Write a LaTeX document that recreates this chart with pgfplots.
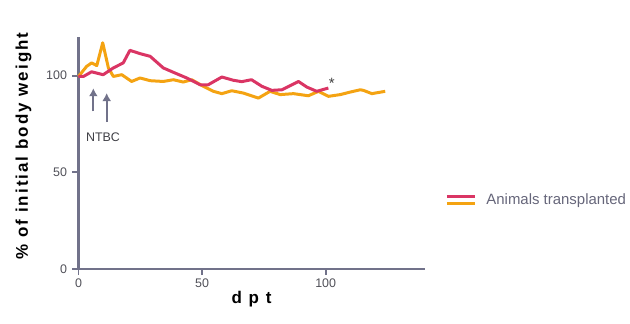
\documentclass[border=0pt]{standalone}
\usepackage{pgfplots}
\pgfplotsset{compat=1.18}
\usetikzlibrary{arrows.meta}
\usepackage{fontspec}
\setmainfont{Liberation Sans}
\newfontfamily\lsfont[LetterSpace=12]{Liberation Sans}
\definecolor{cred}{HTML}{DA3564}
\definecolor{corange}{HTML}{F4A312}
\definecolor{caxis}{HTML}{71728A}
\definecolor{ctick}{HTML}{505058}
\definecolor{cleg}{HTML}{66667A}
\begin{document}
\begin{tikzpicture}
\begin{axis}[
  scale only axis, width=346bp, height=232bp,
  at={(0,0)}, anchor=south west,
  xmin=0, xmax=140, ymin=0, ymax=120,
  axis x line=bottom, axis y line=left,
  axis line style={caxis, line width=2.4bp, -},
  xtick={0,50,100}, ytick={0,50,100},
  tick style={caxis, line width=1.8bp},
  tick align=outside, major tick length=6bp,
  /pgf/number format/assume math mode=true,
  ticklabel style={font=\fontsize{12.5}{14}\selectfont, text=ctick},
  yticklabel style={xshift=-2bp},
  xlabel={\lsfont\bfseries\fontsize{17}{19}\selectfont d p t},
  ylabel={\lsfont\bfseries\fontsize{17}{19}\selectfont \% of initial body weight},
  xlabel style={yshift=3bp},
  ylabel style={yshift=8bp, xshift=7bp},
  legend style={at={(1.06,0.297)}, anchor=west, draw=none, fill=none,
    font=\fontsize{15}{17}\selectfont\color{cleg}, inner sep=0pt},
  legend cell align=left,
  clip=false,
]
\addlegendimage{legend image code/.code={
  \draw[cred, line width=3bp] (0bp,3.5bp) -- (28bp,3.5bp);
  \draw[corange, line width=3bp] (0bp,-3.5bp) -- (28bp,-3.5bp);
}}
\addlegendentry{\hspace{8bp}Animals transplanted}
\addplot[forget plot, corange, line width=3bp, line join=round] coordinates {
(0,99.6) (3.3,104.8) (5.3,106.6) (7.4,105.2) (9.8,117) (12.1,104) (14.1,99.6)
(17.5,100.5) (21.5,97) (24.9,98.8) (29,97.4) (34.3,97) (38.4,97.9) (42.4,96.7)
(45.8,97.9) (50.5,94.5) (54.6,91.9) (58,90.7) (62,92.2) (66.7,91) (72.8,88.4)
(77.5,91.9) (81.6,90.2) (87,90.7) (93,89.6) (97.1,91.9) (101.1,89.3) (105.9,90.2)
(109.9,91.5) (114,92.7) (115.3,92.4) (118.7,90.7) (124.1,91.9)
};
\addplot[forget plot, cred, line width=3bp, line join=round] coordinates {
(0,99.6) (2,99.6) (5.3,102) (10,100.5) (14.1,104) (18.1,106.6) (20.8,113.1)
(24.9,111.4) (29,110) (34.3,104) (39,101.4) (43.8,98.8) (49.2,95.3) (52.5,95.3)
(58,99.3) (62.7,97.6) (66,96.9) (70,97.9) (74.2,94.5) (78.2,92.4) (82.3,92.7)
(85.6,94.8) (89,97) (92.4,94.1) (96.4,91.9) (101.1,93.6)
};
\node[text=black!75, font=\fontsize{15}{15}\selectfont] at (axis cs:102.5,96) {*};
\draw[caxis, line width=2.2bp, -{Latex[length=8bp,width=9bp]}] (axis cs:6,81.5) -- (axis cs:6,93.5);
\draw[caxis, line width=2.2bp, -{Latex[length=8bp,width=9bp]}] (axis cs:11.4,76) -- (axis cs:11.4,91);
\node[text=ctick!80!black, font=\fontsize{12.5}{13}\selectfont] at (axis cs:9.9,68.4) {NTBC};
\end{axis}
\pgfresetboundingbox
\path (-78.5bp,-55bp) rectangle (551.5bp,269bp);
\end{tikzpicture}
\end{document}
